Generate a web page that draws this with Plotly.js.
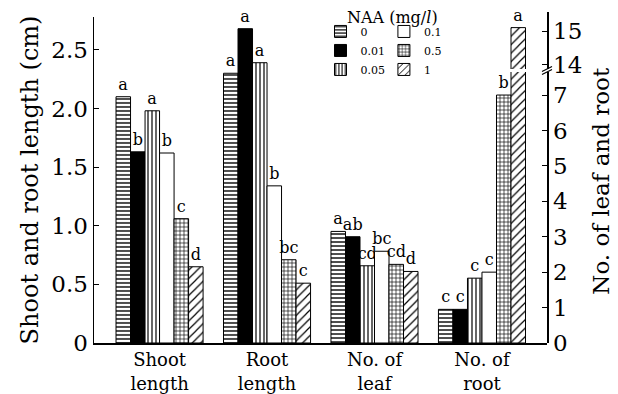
<!DOCTYPE html>
<html><head><meta charset="utf-8">
<script src="https://cdn.plot.ly/plotly-3.0.1.min.js"></script>
<style>html,body{margin:0;padding:0;background:#fff}</style>
</head><body><div id="chart" style="width:618px;height:394px"></div>
<script>
// ---- data ----
const categories = ['Shoot<br>length', 'Root<br>length', 'No. of<br>leaf', 'No. of<br>root'];
const naaLevels = ['0', '0.01', '0.05', '0.1', '0.5', '1'];
const shootLength = [2.10, 1.63, 1.98, 1.62, 1.06, 0.65];   // cm
const rootLength  = [2.30, 2.68, 2.39, 1.34, 0.71, 0.51];   // cm
const leafNumber  = [3.15, 3.00, 2.18, 2.59, 2.22, 2.02];
const rootNumber  = [0.95, 0.95, 1.83, 2.00, 7.00, 15.1];
const shootLetters   = ['a', 'b', 'a', 'b', 'c', 'd'];
const rootLenLetters = ['a', 'a', 'a', 'b', 'bc', 'c'];
const leafLetters    = ['a', 'ab', 'cd', 'bc', 'cd', 'd'];
const rootNoLetters  = ['c', 'c', 'c', 'c', 'b', 'a'];
const leftTickVals  = [0, 0.5, 1, 1.5, 2, 2.5];
const leftTickText  = ['0', '0.5', '1.0', '1.5', '2.0', '2.5'];
const lowTickVals   = [0, 1, 2, 3, 4, 5, 6, 7];
const highTickVals  = [14, 15];

// ---- styles ----
const F = 'DejaVu Serif, Liberation Serif, serif';
const lowRange  = [0, 7.65];      // lower part of broken right axis
const highRange = [13.88, 15.56]; // upper part of broken right axis
const patterns = [
  {shape: '-', size: 4, solidity: 0.35},
  null,
  {shape: '|', size: 4, solidity: 0.3},
  {shape: '', size: 4, solidity: 0.3},
  {shape: '+', size: 4, solidity: 0.3},
  {shape: '/', size: 6, solidity: 0.2}
];
function markerFor(i) {
  const m = {color: i === 1 ? 'black' : 'white', line: {color: 'black', width: 1}};
  if (patterns[i]) m.pattern = Object.assign({fgcolor: 'black', bgcolor: 'white', fillmode: 'replace'}, patterns[i]);
  return m;
}

const traces = [];
for (let i = 0; i < naaLevels.length; i++) {
  const base = {
    type: 'bar', x: categories, name: naaLevels[i], marker: markerFor(i),
    textposition: 'outside', constraintext: 'none',
    textfont: {family: F, size: 16, color: 'black'}, hoverinfo: 'skip'
  };
  traces.push(Object.assign({}, base, {
    y: [shootLength[i], rootLength[i], null, null],
    text: [shootLetters[i], rootLenLetters[i], '', ''],
    yaxis: 'y', cliponaxis: false, legend: i < 3 ? 'legend' : 'legend2'
  }));
}
for (let i = 0; i < naaLevels.length; i++) {
  const vals = [null, null, leafNumber[i], rootNumber[i]];
  const lets = ['', '', leafLetters[i], rootNoLetters[i]];
  traces.push({
    type: 'bar', x: categories, y: vals, yaxis: 'y2', marker: markerFor(i), showlegend: false,
    text: vals.map((v, k) => (v !== null && v <= lowRange[1]) ? lets[k] : ''),
    textposition: 'outside', constraintext: 'none',
    textfont: {family: F, size: 16, color: 'black'}, hoverinfo: 'skip'
  });
}
for (let i = 0; i < naaLevels.length; i++) {
  const vals = [null, null, leafNumber[i], rootNumber[i]];
  const lets = ['', '', leafLetters[i], rootNoLetters[i]];
  traces.push({
    type: 'bar', x: categories, y: vals, yaxis: 'y3', marker: markerFor(i), showlegend: false,
    text: vals.map((v, k) => (v !== null && v >= highRange[0]) ? lets[k] : ''),
    textposition: 'outside', constraintext: 'none',
    textfont: {family: F, size: 16, color: 'black'}, hoverinfo: 'skip'
  });
}

const layout = {
  width: 618, height: 394,
  margin: {l: 94, r: 71, t: 12, b: 51},
  paper_bgcolor: 'white', plot_bgcolor: 'rgba(0,0,0,0)',
  font: {family: F, color: 'black'},
  barmode: 'group', bargap: 0.19, bargroupgap: 0,
  xaxis: {
    type: 'category', range: [-0.61, 3.605], showline: true, linecolor: 'black', linewidth: 1.5,
    ticks: '', showgrid: false, zeroline: false, tickfont: {family: F, size: 18, color: 'black'}
  },
  yaxis: {
    range: [0, 2.78], domain: [0, 0.985], showline: true, linecolor: 'black', linewidth: 1.5,
    ticks: 'inside', ticklen: 5, tickcolor: 'black', tickvals: leftTickVals, ticktext: leftTickText,
    showgrid: false, zeroline: false, tickfont: {family: F, size: 23, color: 'black'},
    title: {text: 'Shoot and root length (cm)', font: {family: F, size: 24, color: 'black'}, standoff: 6}
  },
  yaxis2: {
    range: lowRange, domain: [0, 0.8187], anchor: 'x', side: 'right', showline: true,
    linecolor: 'black', linewidth: 1.5, ticks: 'inside', ticklen: 5, tickcolor: 'black',
    tickvals: lowTickVals, showgrid: false, zeroline: false,
    tickfont: {family: F, size: 23, color: 'black'}
  },
  yaxis3: {
    range: highRange, domain: [0.8278, 1], anchor: 'x', side: 'right', showline: true,
    linecolor: 'black', linewidth: 1.5, ticks: 'inside', ticklen: 5, tickcolor: 'black',
    tickvals: highTickVals, showgrid: false, zeroline: false,
    tickfont: {family: F, size: 23, color: 'black'}
  },
  legend: {x: 0.50, y: 0.985, xanchor: 'left', yanchor: 'top', bgcolor: 'rgba(0,0,0,0)',
           font: {family: F, size: 11, color: 'black'}, traceorder: 'normal'},
  legend2: {x: 0.64, y: 0.985, xanchor: 'left', yanchor: 'top', bgcolor: 'rgba(0,0,0,0)',
            font: {family: F, size: 11, color: 'black'}, traceorder: 'normal'},
  annotations: [
    {text: 'NAA (mg/<i>l</i>)', xref: 'paper', yref: 'paper', x: 0.66, y: 0.982,
     xanchor: 'center', yanchor: 'middle',
     showarrow: false, font: {family: F, size: 16, color: 'black'}},
    {text: 'No. of leaf and root', xref: 'paper', yref: 'paper', x: 1.119, y: 0.49, textangle: -90,
     xanchor: 'center', yanchor: 'middle',
     showarrow: false, font: {family: F, size: 23, color: 'black'}}
  ],
  shapes: [
    {type: 'path', xref: 'paper', yref: 'paper', xsizemode: 'pixel', ysizemode: 'pixel',
     xanchor: 1, yanchor: 0.823, path: 'M-5,-4 L5,1 M-5,-1 L5,4', line: {color: 'black', width: 1.2}}
  ],
  showlegend: true
};

Plotly.newPlot('chart', traces, layout, {staticPlot: true, displayModeBar: false});
</script>
</body></html>
